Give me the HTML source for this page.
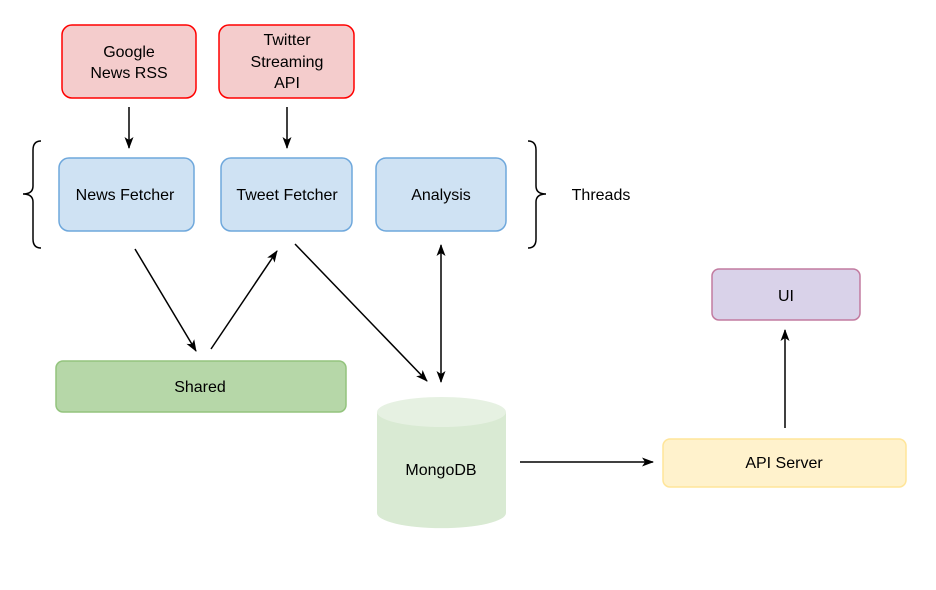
<!DOCTYPE html>
<html><head><meta charset="utf-8"><style>
html,body{margin:0;padding:0;background:#fff;}
svg{display:block;}
text{font-family:"Liberation Sans",sans-serif;font-size:16px;fill:#000;text-anchor:middle;}
</style></head><body>
<svg width="936" height="590" viewBox="0 0 936 590" xmlns="http://www.w3.org/2000/svg">
<defs>
<marker id="a" markerWidth="12" markerHeight="12" refX="11" refY="6" orient="auto" markerUnits="userSpaceOnUse">
<path d="M0,1.5 L12,6 L0,10.5 L3,6 Z" fill="#000"/></marker>
<marker id="s" markerWidth="12" markerHeight="12" refX="1" refY="6" orient="auto" markerUnits="userSpaceOnUse">
<path d="M12,1.5 L0,6 L12,10.5 L9,6 Z" fill="#000"/></marker>
</defs>
<rect x="62" y="25" width="134" height="73" rx="10" fill="#f4cccc" stroke="#ff0000" stroke-width="1.5"/>
<text x="129" y="57">Google</text><text x="129" y="78">News RSS</text>
<rect x="219" y="25" width="135" height="73" rx="10" fill="#f4cccc" stroke="#ff0000" stroke-width="1.5"/>
<text x="287" y="45">Twitter</text><text x="287" y="67">Streaming</text><text x="287" y="88">API</text>

<rect x="59" y="158" width="135" height="73" rx="10" fill="#cfe2f3" stroke="#6fa8dc" stroke-width="1.5"/>
<text x="125" y="200">News Fetcher</text>
<rect x="221" y="158" width="131" height="73" rx="10" fill="#cfe2f3" stroke="#6fa8dc" stroke-width="1.5"/>
<text x="287" y="200">Tweet Fetcher</text>
<rect x="376" y="158" width="130" height="73" rx="10" fill="#cfe2f3" stroke="#6fa8dc" stroke-width="1.5"/>
<text x="441" y="200">Analysis</text>

<path d="M41,141 Q33,141 33,150 L33,186 Q33,194 23,194 Q33,194 33,202 L33,239 Q33,248 41,248" fill="none" stroke="#000" stroke-width="1.5"/>
<path d="M528,141 Q536,141 536,150 L536,186 Q536,194 546,194 Q536,194 536,202 L536,239 Q536,248 528,248" fill="none" stroke="#000" stroke-width="1.5"/>
<text x="601" y="200">Threads</text>

<rect x="56" y="361" width="290" height="51" rx="7" fill="#b6d7a8" stroke="#93c47d" stroke-width="1.5"/>
<text x="200" y="392">Shared</text>

<path d="M377,412 L377,513 A64,15 0 0 0 506,513 L506,412 Z" fill="#d9ead3"/>
<ellipse cx="441.5" cy="412" rx="64.5" ry="15" fill="#e6f1e2"/>
<text x="441" y="475">MongoDB</text>

<rect x="663" y="439" width="243" height="48" rx="7" fill="#fff2cc" stroke="#ffe599" stroke-width="1.5"/>
<text x="784" y="468">API Server</text>
<rect x="712" y="269" width="148" height="51" rx="7" fill="#d9d2e9" stroke="#c27ba0" stroke-width="1.5"/>
<text x="786" y="301">UI</text>

<g stroke="#000" stroke-width="1.5" fill="none">
<line x1="129" y1="107" x2="129" y2="148" marker-end="url(#a)"/>
<line x1="287" y1="107" x2="287" y2="148" marker-end="url(#a)"/>
<line x1="135" y1="249" x2="196" y2="351" marker-end="url(#a)"/>
<line x1="211" y1="349" x2="277" y2="251" marker-end="url(#a)"/>
<line x1="295" y1="244" x2="427" y2="381" marker-end="url(#a)"/>
<line x1="441" y1="245" x2="441" y2="382" marker-start="url(#s)" marker-end="url(#a)"/>
<line x1="520" y1="462" x2="653" y2="462" marker-end="url(#a)"/>
<line x1="785" y1="428" x2="785" y2="330" marker-end="url(#a)"/>
</g>
</svg>
</body></html>
